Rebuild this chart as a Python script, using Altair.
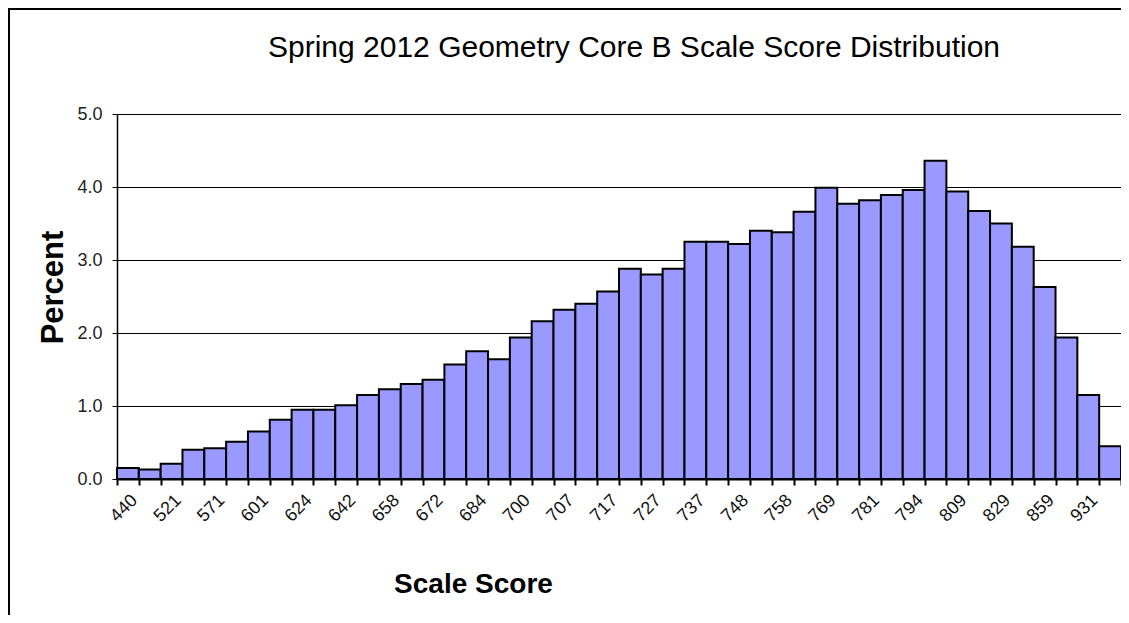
import altair as alt
import pandas as pd

# Scale-score labels shown under every other bar
tick_labels = ["440", "521", "571", "601", "624", "642", "658", "672", "684", "700",
               "707", "717", "727", "737", "748", "758", "769", "781", "794", "809",
               "829", "859", "931"]

# Percent of students in each scale-score bar (46 bars)
percents = [0.15, 0.13, 0.21, 0.40, 0.42, 0.51, 0.65, 0.81, 0.95, 0.95,
            1.01, 1.15, 1.23, 1.30, 1.36, 1.57, 1.75, 1.64, 1.94, 2.16,
            2.32, 2.40, 2.57, 2.88, 2.80, 2.88, 3.25, 3.25, 3.22, 3.40,
            3.38, 3.66, 3.99, 3.77, 3.82, 3.89, 3.96, 4.36, 3.94, 3.67,
            3.50, 3.18, 2.63, 1.94, 1.15, 0.45]

y_ticks = [0, 1, 2, 3, 4, 5]

df = pd.DataFrame({"idx": list(range(len(percents))), "pct": percents})

js_labels = "[" + ",".join("'" + s + "'" for s in tick_labels) + "]"
label_expr = "datum.value % 2 == 0 ? " + js_labels + "[datum.value / 2] : ''"

FONT = "Liberation Sans"

bars = alt.Chart(df).mark_bar(
    color="#9999FF", stroke="black", strokeWidth=2
).encode(
    x=alt.X("idx:O",
            scale=alt.Scale(paddingInner=0, paddingOuter=0),
            axis=alt.Axis(title="Scale Score", labelExpr=label_expr, labelAngle=315,
                          labelFontSize=18, labelFont=FONT, labelColor="#111",
                          labelPadding=6, tickBand="extent", tickSize=6, tickWidth=2,
                          tickColor="black", domainColor="black", domainWidth=2,
                          titleFont=FONT, titleFontSize=28, titleFontWeight="bold",
                          titleColor="black", titleX=356, titleY=113,
                          titleBaseline="alphabetic", titleAlign="center",
                          labelOverlap=False)),
    y=alt.Y("pct:Q",
            scale=alt.Scale(domain=[0, 5], nice=False),
            axis=alt.Axis(title="Percent", values=y_ticks, format=".1f",
                          labelFontSize=18, labelFont=FONT, labelColor="#222",
                          labelPadding=10, tickSize=5, tickColor="black",
                          domainColor="black", domainWidth=1.5,
                          grid=True, gridColor="black", gridWidth=1,
                          titleFont=FONT, titleFontSize=31, titleFontWeight="bold",
                          titleColor="black", titleAngle=270, titleX=-55, titleY=173,
                          titleBaseline="alphabetic", titleAlign="center")),
)

frame = alt.Chart(pd.DataFrame({"a": [0]})).mark_rect(
    fillOpacity=0, stroke="black", strokeWidth=2
).encode(
    x=alt.value(-108), x2=alt.value(1030), y=alt.value(-105), y2=alt.value(530)
)

chart = alt.layer(bars, frame).properties(
    width=1004, height=365,
    title=alt.TitleParams("Spring 2012 Geometry Core B Scale Score Distribution",
                          font=FONT, fontSize=30, fontWeight="normal", color="black",
                          anchor="middle", frame="group", baseline="alphabetic",
                          dx=15, offset=-79),
    autosize=alt.AutoSizeParams(type="none"),
    padding={"left": 109, "top": 106, "right": 0, "bottom": 136},
).configure_view(stroke=None)

chart.save("out.html", embed_options={"renderer": "svg", "actions": False})
